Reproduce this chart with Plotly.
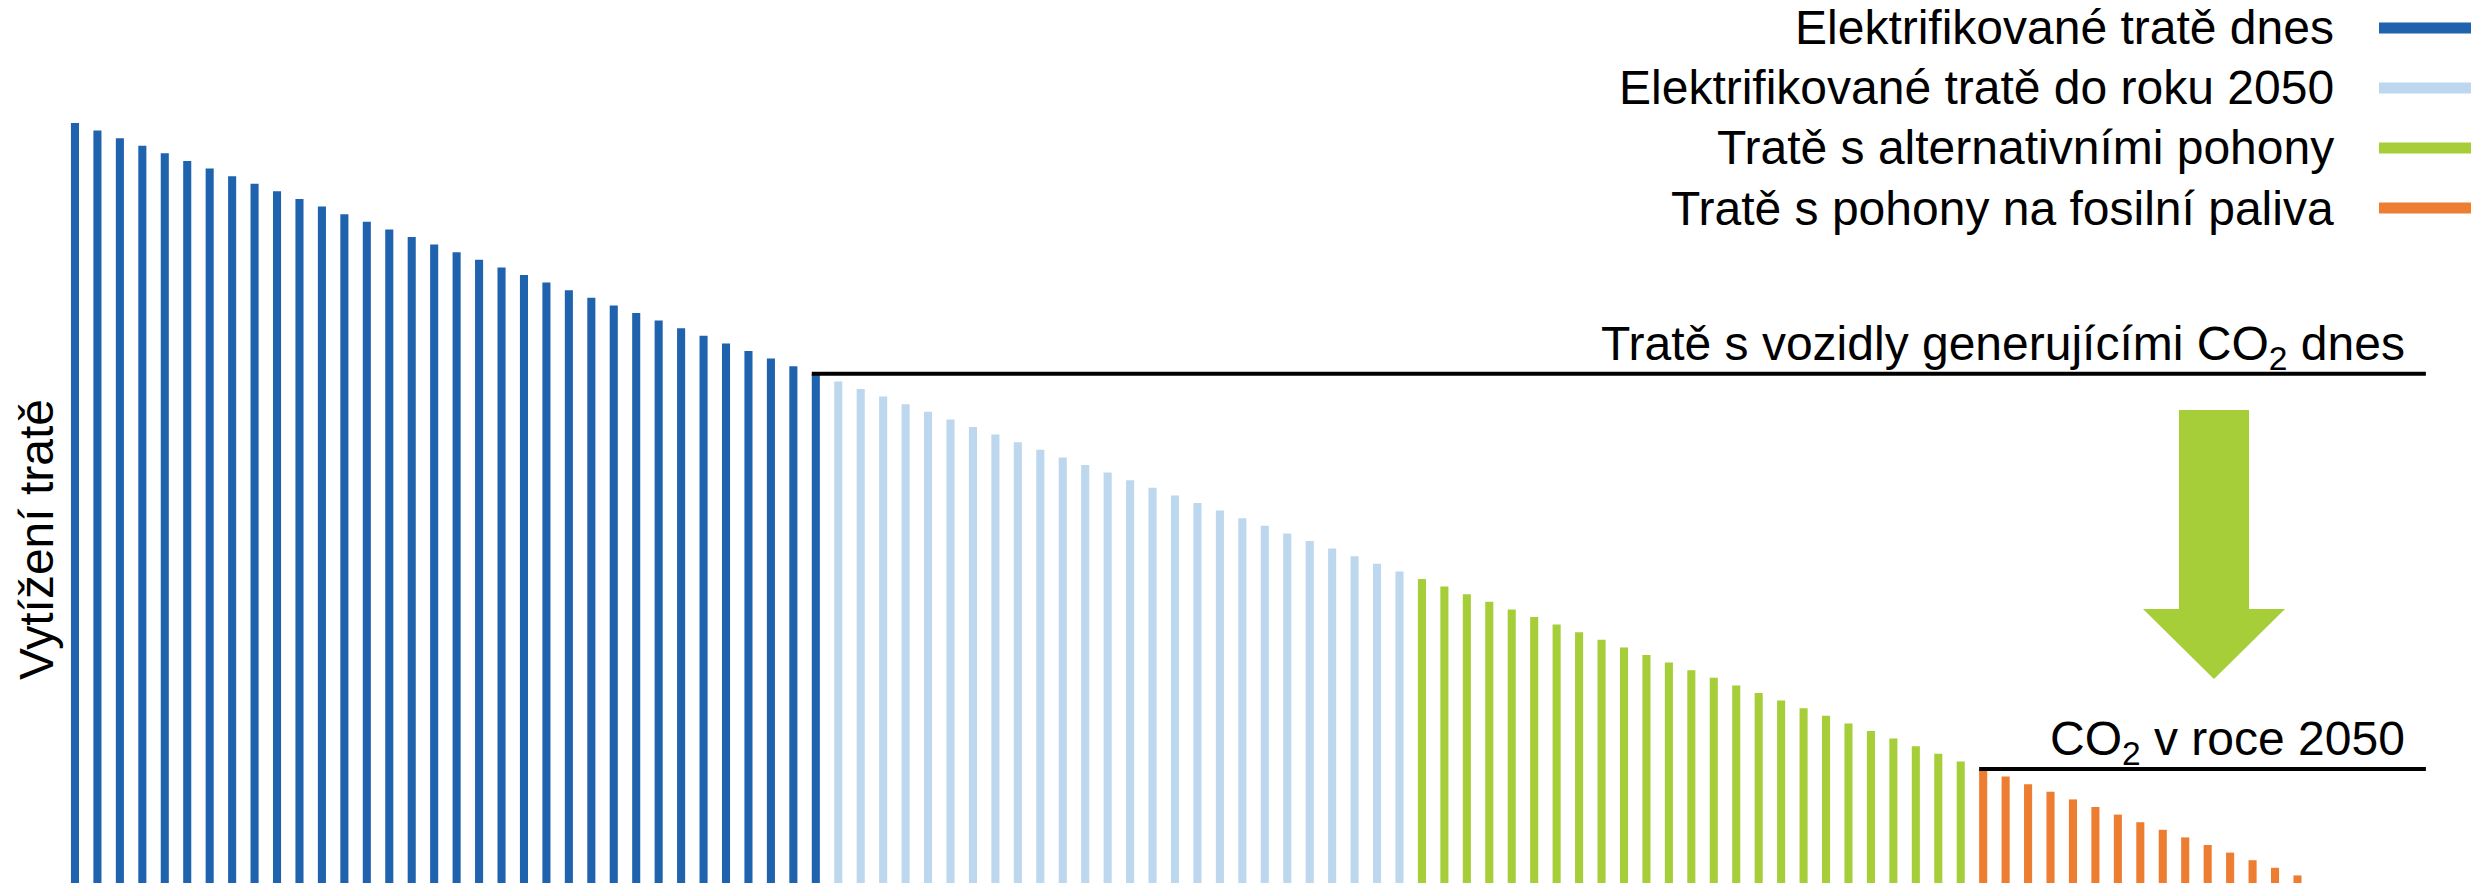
import plotly.graph_objects as go

# Track load values, sorted from busiest to least used track
electrified_today = [100, 99, 98, 97, 96, 95, 94, 93, 92, 91, 90, 89, 88, 87, 86, 85, 84,
                     83, 82, 81, 80, 79, 78, 77, 76, 75, 74, 73, 72, 71, 70, 69, 68, 67]
electrified_2050 = [66, 65, 64, 63, 62, 61, 60, 59, 58, 57, 56, 55, 54, 53, 52, 51, 50,
                    49, 48, 47, 46, 45, 44, 43, 42, 41]
alternative_drive = [40, 39, 38, 37, 36, 35, 34, 33, 32, 31, 30, 29, 28, 27, 26, 25, 24,
                     23, 22, 21, 20, 19, 18, 17, 16]
fossil_drive = [15, 14, 13, 12, 11, 10, 9, 8, 7, 6, 5, 4, 3, 2, 1]

series_names = [
    "Elektrifikované tratě dnes",
    "Elektrifikované tratě do roku 2050",
    "Tratě s alternativními pohony",
    "Tratě s pohony na fosilní paliva",
]
series_values = [electrified_today, electrified_2050, alternative_drive, fossil_drive]
series_colors = ["#1F63AE", "#BDD7EE", "#A6CE39", "#ED7D31"]

y_title = "Vytížení tratě"
label_today = "Tratě s vozidly generujícími CO<sub>2</sub> dnes"
label_2050 = "CO<sub>2</sub> v roce 2050"

W, H = 2471, 886
FONT = "Liberation Sans, Arial, sans-serif"
BAR_W = 0.36


def px(x):
    return x / W


def py(y):
    return 1 - y / H


fig = go.Figure()

start = 0
for name, vals, col in zip(series_names, series_values, series_colors):
    xs = list(range(start, start + len(vals)))
    fig.add_trace(go.Bar(x=xs, y=vals, name=name, width=BAR_W,
                         marker=dict(color=col, line=dict(width=0)),
                         showlegend=False))
    start += len(vals)

# Reference levels: top of the last electrified bar and of the first fossil bar
n_today = len(electrified_today)
n_fossil_start = len(electrified_today) + len(electrified_2050) + len(alternative_drive)
line_end = 104.72
shapes = [
    dict(type="line", xref="x", yref="y",
         x0=n_today - 1 - BAR_W / 2, x1=line_end,
         y0=electrified_today[-1], y1=electrified_today[-1],
         line=dict(color="black", width=4)),
    dict(type="line", xref="x", yref="y",
         x0=n_fossil_start - BAR_W / 2, x1=line_end,
         y0=fossil_drive[0], y1=fossil_drive[0],
         line=dict(color="black", width=4)),
]

# Downward arrow between the two levels
arrow_pts = [(2179, 410), (2249, 410), (2249, 609), (2285, 609),
             (2214, 679), (2143, 609), (2179, 609)]
path = "M " + " L ".join(f"{px(x):.5f},{py(y):.5f}" for x, y in arrow_pts) + " Z"
shapes.append(dict(type="path", xref="paper", yref="paper", path=path,
                   fillcolor="#A6CE39", line=dict(width=0)))

annotations = []
# Legend drawn as text + line swatch on the right
legend_rows = [28, 88, 148, 208]
for name, col, yy in zip(series_names, series_colors, legend_rows):
    shapes.append(dict(type="line", xref="paper", yref="paper",
                       x0=px(2379), x1=1.0, y0=py(yy), y1=py(yy),
                       line=dict(color=col, width=11)))
    annotations.append(dict(text=name, xref="paper", yref="paper",
                            x=px(2336), y=py(yy), xanchor="right", yanchor="middle",
                            showarrow=False, font=dict(family=FONT, size=48, color="black")))

annotations.append(dict(text=label_today, xref="paper", yref="paper",
                        x=px(2407), y=py(347), xanchor="right", yanchor="middle",
                        showarrow=False, font=dict(family=FONT, size=48, color="black")))
annotations.append(dict(text=label_2050, xref="paper", yref="paper",
                        x=px(2407), y=py(742), xanchor="right", yanchor="middle",
                        showarrow=False, font=dict(family=FONT, size=48, color="black")))
annotations.append(dict(text=y_title, xref="paper", yref="paper",
                        x=px(36), y=py(540), xanchor="center", yanchor="middle",
                        textangle=-90, showarrow=False,
                        font=dict(family=FONT, size=48, color="black")))

fig.update_layout(
    width=W, height=H,
    margin=dict(l=0, r=0, t=0, b=0, pad=0),
    paper_bgcolor="white", plot_bgcolor="white",
    xaxis=dict(range=[-3.34, 106.73], visible=False, fixedrange=True),
    yaxis=dict(range=[-0.395, 116.18], visible=False, fixedrange=True),
    shapes=shapes,
    annotations=annotations,
    barmode="overlay",
    showlegend=False,
)

fig.write_html("out.html")
